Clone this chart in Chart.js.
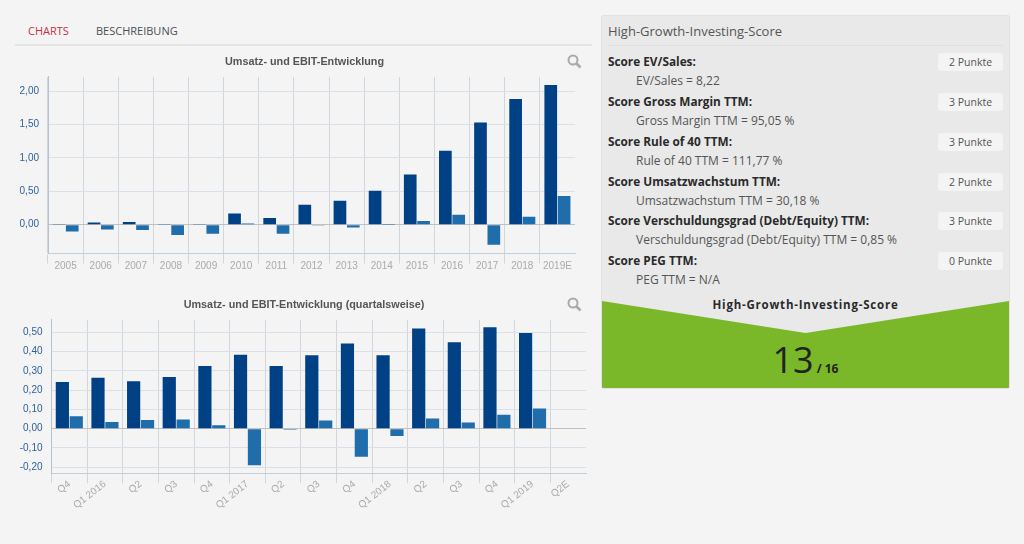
<!DOCTYPE html>
<html lang="de">
<head>
<meta charset="utf-8">
<title>High-Growth-Investing-Score</title>
<script src="https://cdn.jsdelivr.net/npm/chart.js@4/dist/chart.umd.min.js"></script>
<style>
html, body { margin: 0; padding: 0; background: #f4f4f4; }
body { width: 1024px; height: 544px; position: relative; overflow: hidden; font-family: "Open Sans", sans-serif; color: #444; }
.tabs { position: absolute; left: 15px; top: 15px; width: 577px; height: 29px; border-bottom: 2px solid #e4e4e4; font-size: 11px; }
.tabs span { position: absolute; top: 8px; }
.tab-active { left: 13px; color: #c8323f; }
.tab-other { left: 81px; color: #4a4f57; }
.chart-box { position: absolute; left: 15px; width: 579px; }
.chart-box canvas { display: block; }
.lens { position: absolute; left: 567px; }
.panel { position: absolute; left: 601px; top: 15px; width: 407px; height: 372px; background: #e9e9e9; border: 1px solid #e2e2e2; border-radius: 2px; overflow: hidden; }
.panel h3 { position: absolute; left: 6px; top: 6px; margin: 0; font-size: 13px; font-weight: 400; color: #555; }
.panel hr { position: absolute; left: 6px; top: 29px; width: 395px; margin: 0; border: 0; border-top: 1px solid #e0e0e0; }
.score-row { position: absolute; left: 6px; width: 395px; height: 40px; font-size: 12px; }
.score-name { position: absolute; left: 0; top: 0; font-size: 11.8px; font-weight: 700; color: #2a2a2a; white-space: nowrap; }
.score-value { position: absolute; left: 28px; top: 19px; color: #555; white-space: nowrap; }
.score-pts { position: absolute; right: 0; top: 0; width: 65px; height: 18px; line-height: 18px; background: #f4f4f4; border-radius: 3px; text-align: center; font-size: 10.5px; color: #555; }
.score-foot { position: absolute; left: 0; top: 281px; width: 407px; text-align: center; font-size: 11.5px; font-weight: 700; letter-spacing: .78px; color: #2a2a2a; }
.score-shape { position: absolute; left: 0; top: 285px; }
.score-total { position: absolute; left: 0; top: 321px; width: 407px; text-align: center; color: #222; font-size: 36px; line-height: 46px; }
.score-total small { font-size: 12px; font-weight: 700; margin-left: 3px; }
</style>
</head>
<body>

<div class="tabs"><span class="tab-active">CHARTS</span><span class="tab-other">BESCHREIBUNG</span></div>

<div class="chart-box" style="top:51px;height:230px"><canvas id="chart-jahr" width="579" height="230"></canvas></div>
<div class="chart-box" style="top:294px;height:237px"><canvas id="chart-quartal" width="579" height="237"></canvas></div>

<svg class="lens" style="top:54px" width="15" height="15" viewBox="0 0 15 15"><circle cx="6" cy="6" r="4.5" fill="none" stroke="#aaa" stroke-width="2"/><path d="M9.5 9.5L13.5 13.5" stroke="#aaa" stroke-width="2.6"/></svg>
<svg class="lens" style="top:297px" width="15" height="15" viewBox="0 0 15 15"><circle cx="6" cy="6" r="4.5" fill="none" stroke="#aaa" stroke-width="2"/><path d="M9.5 9.5L13.5 13.5" stroke="#aaa" stroke-width="2.6"/></svg>

<div class="panel" id="panel">
  <h3>High-Growth-Investing-Score</h3>
  <hr>
  <svg class="score-shape" width="407" height="87"><polygon points="0,0 203.5,32 407,0 407,87 0,87" fill="#7ab829"/></svg>
  <div class="score-foot">High-Growth-Investing-Score</div>
  <div class="score-total">13<small>/ 16</small></div>
</div>

<script>
// Jahreswerte
var jahrLabels = ['2005', '2006', '2007', '2008', '2009', '2010', '2011', '2012', '2013', '2014', '2015', '2016', '2017', '2018', '2019E'];
var jahrUmsatz = [0.01, 0.035, 0.04, 0.005, 0.012, 0.17, 0.10, 0.30, 0.357, 0.51, 0.753, 1.105, 1.53, 1.88, 2.09];
var jahrEbit = [-0.10, -0.07, -0.08, -0.155, -0.135, 0.02, -0.135, -0.002, -0.04, 0.001, 0.055, 0.15, -0.30, 0.12, 0.43];
var jahrTicks = [0, 0.5, 1, 1.5, 2];

// Quartalswerte
var quartalLabels = ['Q4', 'Q1 2016', 'Q2', 'Q3', 'Q4', 'Q1 2017', 'Q2', 'Q3', 'Q4', 'Q1 2018', 'Q2', 'Q3', 'Q4', 'Q1 2019', 'Q2E'];
var quartalUmsatz = [0.243, 0.264, 0.246, 0.269, 0.326, 0.384, 0.326, 0.382, 0.443, 0.382, 0.52, 0.449, 0.527, 0.497, null];
var quartalEbit = [0.065, 0.035, 0.045, 0.048, 0.018, -0.19, -0.005, 0.043, -0.146, -0.038, 0.053, 0.032, 0.072, 0.105, null];
var quartalTicks = [-0.2, -0.1, 0, 0.1, 0.2, 0.3, 0.4, 0.5];

// Score-Tabelle
var scoreNames = ['Score EV/Sales:', 'Score Gross Margin TTM:', 'Score Rule of 40 TTM:', 'Score Umsatzwachstum TTM:', 'Score Verschuldungsgrad (Debt/Equity) TTM:', 'Score PEG TTM:'];
var scoreValues = ['EV/Sales = 8,22', 'Gross Margin TTM = 95,05 %', 'Rule of 40 TTM = 111,77 %', 'Umsatzwachstum TTM = 30,18 %', 'Verschuldungsgrad (Debt/Equity) TTM = 0,85 %', 'PEG TTM = N/A'];
var scorePoints = [2, 3, 3, 2, 3, 0];

var panel = document.getElementById('panel');
scoreNames.forEach(function(name, i) {
    var row = document.createElement('div');
    row.className = 'score-row';
    row.style.top = Math.round(37 + i * 39.85) + 'px';
    row.innerHTML = '<span class="score-name">' + name + '</span>' +
        '<span class="score-value">' + scoreValues[i] + '</span>' +
        '<span class="score-pts">' + scorePoints[i] + ' Punkte</span>';
    panel.appendChild(row);
});

function drawBars(canvasId, cfg) {
    new Chart(document.getElementById(canvasId), {
        type: 'bar',
        data: {
            labels: cfg.labels,
            datasets: [
                { label: 'Umsatz', data: cfg.umsatz, backgroundColor: '#004085', borderWidth: 0 },
                { label: 'EBIT', data: cfg.ebit, backgroundColor: '#1f6dab', borderWidth: 0 }
            ]
        },
        options: {
            responsive: false,
            animation: false,
            devicePixelRatio: 1,
            layout: { padding: { left: 0, right: cfg.paddingRight, top: 0, bottom: 0 } },
            datasets: { bar: { categoryPercentage: cfg.catPercent, barPercentage: 0.95 } },
            plugins: {
                legend: { display: false },
                tooltip: { enabled: false },
                title: {
                    display: true,
                    text: cfg.title,
                    color: '#555',
                    font: { family: 'Liberation Sans', size: 10.8, weight: 'bold', lineHeight: 1.2 },
                    padding: { top: 5, bottom: 8 }
                }
            },
            scales: {
                x: {
                    afterFit: function(scale) { scale.height = cfg.xHeight; },
                    border: { color: '#c3cedb' },
                    grid: {
                        tickLength: 10,
                        color: function(ctx) { return ctx.tick ? '#d2d5da' : 'transparent'; }
                    },
                    ticks: {
                        autoSkip: false,
                        maxRotation: cfg.rotation,
                        minRotation: cfg.rotation,
                        padding: cfg.xPadding,
                        color: '#aaaaaa',
                        font: { family: 'Liberation Sans', size: 10 }
                    }
                },
                y: {
                    min: cfg.min,
                    max: cfg.max,
                    afterFit: function(scale) { scale.width = cfg.yWidth; },
                    afterBuildTicks: function(scale) {
                        scale.ticks = cfg.ticks.map(function(v) { return { value: v }; });
                    },
                    border: { color: '#b4c2d2' },
                    grid: {
                        drawTicks: false,
                        color: function(ctx) { return ctx.tick && ctx.tick.value === 0 ? '#c0c0c0' : '#d8e0ea'; }
                    },
                    ticks: {
                        padding: 9,
                        color: '#2f6299',
                        font: { family: 'Liberation Sans', size: 10 },
                        callback: function(v) { return v.toFixed(2).replace('.', ','); }
                    }
                },
                // leere Achse rechts, damit der Titel ueber der ganzen Box zentriert bleibt
                spacer: {
                    position: 'right',
                    afterFit: function(scale) { scale.width = cfg.spacerWidth; },
                    border: { display: false },
                    grid: { display: false, drawTicks: false },
                    ticks: { display: false }
                }
            }
        }
    });
}

drawBars('chart-jahr', {
    title: 'Umsatz- und EBIT-Entwicklung',
    labels: jahrLabels, umsatz: jahrUmsatz, ebit: jahrEbit, ticks: jahrTicks,
    min: -0.43, max: 2.21, rotation: 0, catPercent: 0.76,
    yWidth: 33, xHeight: 27.5, paddingRight: 0, spacerWidth: 19, xPadding: -3
});

drawBars('chart-quartal', {
    title: 'Umsatz- und EBIT-Entwicklung (quartalsweise)',
    labels: quartalLabels, umsatz: quartalUmsatz, ebit: quartalEbit, ticks: quartalTicks,
    min: -0.232, max: 0.565, rotation: 38, catPercent: 0.78,
    yWidth: 36.5, xHeight: 57.7, paddingRight: 1, spacerWidth: 7, xPadding: -5
});
</script>
</body>
</html>
